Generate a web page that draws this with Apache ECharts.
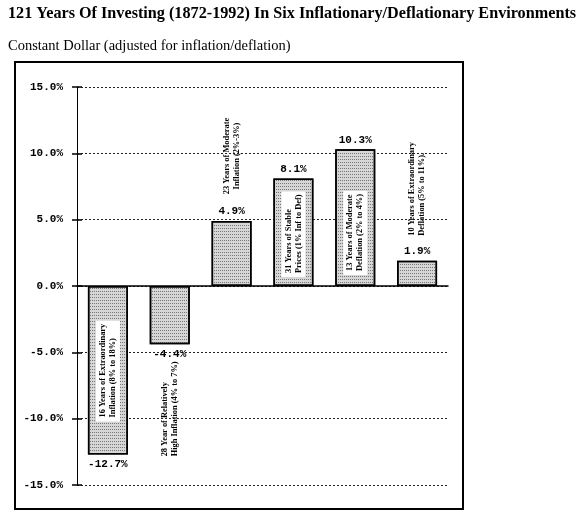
<!DOCTYPE html>
<html>
<head>
<meta charset="utf-8">
<script src="https://cdn.jsdelivr.net/npm/echarts@6/dist/echarts.min.js"></script>
<style>
html,body{margin:0;padding:0;background:#fff;}
#chart{width:588px;height:523px;}
</style>
</head>
<body>
<div id="chart"></div>
<script>
// ---- data ----
const titleText = '121 Years Of Investing (1872-1992) In Six Inflationary/Deflationary Environments';
const subtitleText = 'Constant Dollar (adjusted for inflation/deflation)';
const categories = [
  '16 Years of Extraordinary\nInflation (8% to 18%)',
  '28 Year of Relatively\nHigh Inflation (4% to 7%)',
  '23 Years of Moderate\nInflation (2%-3%)',
  '31 Years of Stable\nPrices (1% Inf to Def)',
  '13 Years of Moderate\nDeflation (2% to 4%)',
  '10 Years of Extraordinary\nDeflation (5% to 11%).'
];
const values = [-12.7, -4.4, 4.9, 8.1, 10.3, 1.9];
const yTicks = [-15, -10, -5, 0, 5, 10, 15];

// ---- label layout (style only) ----
// anchor: 'end' = bar end, 'base' = zero line; shift in px; box = white background
const descLayout = [
  {anchor: 'end', shift: -33, box: true, align: 'left'},
  {anchor: 'end', shift: 112, box: false, align: 'left'},
  {anchor: 'end', shift: -65, box: false, align: 'center'},
  {anchor: 'base', shift: -9, box: true, align: 'left'},
  {anchor: 'base', shift: -11, box: true, align: 'left'},
  {anchor: 'end', shift: -25, box: false, align: 'left'}
];

const chart = echarts.init(document.getElementById('chart'), null, {renderer: 'canvas'});
const monoFont = 'Liberation Mono';

const option = {
  backgroundColor: '#fff',
  animation: false,
  title: [
    {text: titleText, left: 8, top: 6, padding: 0,
     textStyle: {fontFamily: 'Liberation Serif', fontWeight: 'bold', fontSize: 16.2, color: '#000'}},
    {text: subtitleText, left: 8, top: 39, padding: 0,
     textStyle: {fontFamily: 'Liberation Serif', fontWeight: 'normal', fontSize: 14.5, color: '#000'}}
  ],
  graphic: [
    {type: 'rect', shape: {x: 15, y: 62, width: 448, height: 447},
     style: {fill: 'none', stroke: '#000', lineWidth: 2}, silent: true, z: 0}
  ],
  grid: {left: 77, right: 140, top: 87, bottom: 38},
  xAxis: {
    type: 'category',
    data: categories,
    axisLine: {show: true, onZero: true, lineStyle: {color: '#000', width: 1.5}},
    axisTick: {show: false},
    axisLabel: {show: false},
    splitLine: {show: false}
  },
  yAxis: [
    {
      type: 'value',
      min: yTicks[0],
      max: yTicks[yTicks.length - 1],
      interval: 5,
      axisLine: {show: true, lineStyle: {color: '#000', width: 1}},
      axisTick: {show: true, length: 5, lineStyle: {color: '#000', width: 1.5}},
      axisLabel: {
        formatter: v => v.toFixed(1) + '%',
        fontFamily: monoFont, fontWeight: 'bold', fontSize: 11, color: '#000', margin: 14
      },
      splitLine: {show: true, lineStyle: {color: '#222', width: 1, type: [2, 2]}}
    },
    {
      type: 'value',
      position: 'left',
      min: yTicks[0],
      max: yTicks[yTicks.length - 1],
      interval: 5,
      axisLine: {show: false},
      axisTick: {show: true, inside: true, length: 5, lineStyle: {color: '#000', width: 1.5}},
      axisLabel: {show: false},
      splitLine: {show: false}
    }
  ],
  series: [
    {
      type: 'bar',
      barWidth: 40,
      data: values.map(v => ({
        value: v,
        label: {position: v >= 0 ? 'top' : 'bottom'}
      })),
      itemStyle: {
        color: '#d6d6d6', borderColor: '#000', borderWidth: 1.5,
        decal: {symbol: 'rect', symbolSize: 1, color: 'rgba(40,40,40,0.55)',
                dashArrayX: [1, 1], dashArrayY: [1, 2], rotation: 0}
      },
      label: {
        show: true,
        formatter: p => p.value.toFixed(1) + '%',
        fontFamily: monoFont, fontWeight: 'bold', fontSize: 11, color: '#000', distance: 4
      },
      z: 2
    },
    {
      type: 'custom',
      data: values.map((v, i) => [i, v]),
      encode: {x: 0, y: 1},
      z: 5,
      silent: true,
      renderItem: function (params, api) {
        const i = api.value(0);
        const v = api.value(1);
        const end = api.coord([i, v]);
        const base = api.coord([i, 0]);
        const L = descLayout[i];
        const y = (L.anchor === 'end' ? end[1] : base[1]) + L.shift;
        return {
          type: 'text',
          x: end[0],
          y: y,
          rotation: Math.PI / 2,
          style: {
            text: categories[i],
            fontFamily: 'Liberation Serif',
            fontWeight: 'bold',
            fontSize: 8.4,
            lineHeight: 10,
            fill: '#000',
            align: L.align,
            verticalAlign: 'middle',
            backgroundColor: L.box ? '#fff' : null,
            padding: L.box ? [2, 3, 2, 4] : 0
          }
        };
      }
    }
  ]
};
chart.setOption(option);
</script>
</body>
</html>
